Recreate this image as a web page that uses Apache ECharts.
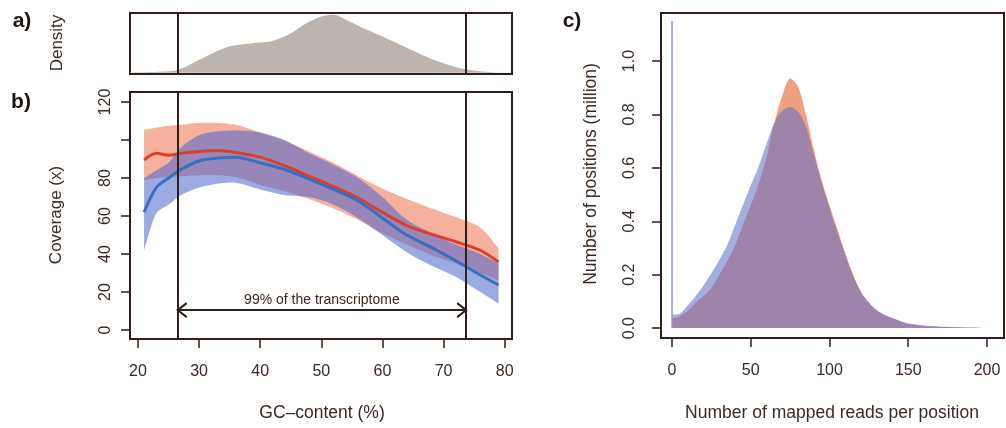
<!DOCTYPE html>
<html>
<head>
<meta charset="utf-8">
<script src="https://cdn.jsdelivr.net/npm/echarts@6/dist/echarts.min.js"></script>
<style>
  html, body { margin: 0; padding: 0; background: #fff; }
  #chart { width: 1006px; height: 428px; }
</style>
</head>
<body>
<div id="chart"></div>
<script>
// panel a: GC-content density
var densityGc = [18.7, 22, 26.5, 30, 34.5, 38.5, 42, 45, 47.5, 50, 52, 54.5, 57.5, 63, 68.5, 73.5, 78, 81.2]
var densityValues = [0.01, 0.015, 0.05, 0.22, 0.44, 0.51, 0.55, 0.68, 0.85, 0.97, 1.0, 0.89, 0.74, 0.48, 0.22, 0.06, 0.01, 0.0]

// panel b: coverage vs GC-content
var gcValues = [21, 23, 25, 27, 30, 33, 36, 40, 44, 48, 52, 56, 60, 64, 68, 72, 76, 79]
var redMean = [89.5, 93, 92, 93, 94, 94.5, 93.5, 91, 86.5, 81, 75.5, 69.5, 62, 55, 50.5, 46.5, 42, 35.8]
var redUpper = [105.5, 106.5, 107.5, 108, 109, 109, 108, 104, 99.5, 94, 88, 81, 74.5, 69, 64, 59.5, 54, 43]
var redLower = [79, 80, 80.5, 81, 81.5, 81.5, 80.5, 76.5, 73, 69, 64, 58, 51, 45, 39.5, 35, 30, 26]
var blueMean = [62, 75, 80, 84.5, 89, 90.5, 91, 88, 84.5, 79.5, 74, 68, 59, 50, 43.5, 36.5, 29, 23.7]
var blueUpper = [80, 84, 88, 96, 102.5, 104.5, 105, 104, 100, 93, 87, 80, 70, 58, 51, 45, 40, 35]
var blueLower = [42, 61.5, 66, 71, 75, 77, 77.5, 74, 71, 70, 66, 59, 50, 41, 34, 28, 20, 14]
var transcriptomeRange = [26.5, 73.7]
var arrowLevel = 10.5
var arrowText = '99% of the transcriptome'
var gcTicks = [20, 30, 40, 50, 60, 70, 80]
var coverageTicks = [0, 20, 40, 60, 80, 100, 120]
var coverageLabels = [0, 20, 40, 60, 80, 120]

// panel c: mapped reads per position
var readsPerPosition = [0, 5, 10, 15, 20, 25, 30, 35, 40, 45, 50, 55, 60, 65, 70, 75, 80, 85, 90, 95, 100, 105, 110, 115, 120, 125, 130, 135, 140, 145, 150, 160, 170, 180, 190, 200]
var orangePositions = [0.035, 0.045, 0.065, 0.095, 0.12, 0.15, 0.2, 0.25, 0.31, 0.385, 0.46, 0.54, 0.64, 0.77, 0.87, 0.935, 0.905, 0.8, 0.67, 0.555, 0.46, 0.37, 0.28, 0.2, 0.135, 0.095, 0.065, 0.048, 0.037, 0.025, 0.015, 0.008, 0.005, 0.003, 0.002, 0.001]
var bluePositions = [0.05, 0.055, 0.085, 0.12, 0.16, 0.205, 0.255, 0.31, 0.385, 0.46, 0.535, 0.605, 0.69, 0.77, 0.815, 0.828, 0.81, 0.755, 0.65, 0.545, 0.45, 0.36, 0.275, 0.195, 0.135, 0.095, 0.068, 0.05, 0.038, 0.027, 0.018, 0.01, 0.006, 0.004, 0.002, 0.001]
var spikeReads = [0, 0]
var spikeValues = [0, 1.15]
var readTicks = [0, 50, 100, 150, 200]
var positionTicks = [0, 0.2, 0.4, 0.6, 0.8, 1.0]

var FONT = '"Liberation Sans", Arial, sans-serif'
var INK = '#3b2a21'
var FRAME = '#2e2019'

function pairs(xs, ys) {
  return xs.map(function(x, i) { return [x, ys[i]] })
}

function valueAxis(grid, min, max, extra) {
  var axis = {
    type: 'value',
    gridIndex: grid,
    min: min,
    max: max,
    splitLine: { show: false },
    axisLine: { show: false, onZero: false },
    axisTick: { show: false },
    axisLabel: { show: false }
  }
  return Object.assign(axis, extra || {})
}

function ticked(values, labels, margin, rotate, fmt) {
  return {
    axisTick: {
      show: true,
      length: 9,
      customValues: values,
      lineStyle: { color: FRAME, width: 1.5 }
    },
    axisLabel: {
      show: true,
      customValues: labels,
      margin: margin,
      rotate: rotate,
      color: INK,
      fontSize: 16,
      fontFamily: FONT,
      formatter: fmt
    }
  }
}

// shaded band between lower and upper, drawn once as a polygon through the axis scales
function band(xs, lower, upper, color, opacity) {
  return {
    type: 'custom',
    xAxisIndex: 1, yAxisIndex: 1,
    silent: true,
    encode: { x: 0, y: [1, 2] },
    data: xs.map(function(x, i) { return [x, lower[i], upper[i]] }),
    renderItem: function(params, api) {
      if (params.dataIndex !== 0) return null
      var pts = []
      var n = xs.length
      var first = api.coord([xs[0], upper[0]])
      pts.push(first, first.slice())
      for (var i = 1; i < n - 1; i++) pts.push(api.coord([xs[i], upper[i]]))
      var tr = api.coord([xs[n - 1], upper[n - 1]])
      var br = api.coord([xs[n - 1], lower[n - 1]])
      pts.push(tr, tr.slice(), br, br.slice())
      for (var j = n - 2; j > 0; j--) pts.push(api.coord([xs[j], lower[j]]))
      var bl = api.coord([xs[0], lower[0]])
      pts.push(bl, bl.slice())
      return {
        type: 'polygon',
        shape: { points: pts, smooth: 0.3 },
        style: { fill: color, opacity: opacity }
      }
    }
  }
}

var chart = echarts.init(document.getElementById('chart'), null, { renderer: 'canvas' })

var gridStyle = { show: true, borderColor: FRAME, borderWidth: 2, backgroundColor: 'transparent' }

var vlines = {
  silent: true,
  symbol: ['none', 'none'],
  label: { show: false },
  lineStyle: { color: FRAME, width: 2, type: 'solid' },
  data: transcriptomeRange.map(function(v) { return { xAxis: v } })
}

var lineBase = { type: 'line', showSymbol: false, symbol: 'none', smooth: 0.3, silent: true }

chart.setOption({
  animation: false,
  textStyle: { fontFamily: FONT },
  grid: [
    Object.assign({ left: 130, top: 13, width: 382, height: 61 }, gridStyle),
    Object.assign({ left: 130, top: 92, width: 382, height: 247 }, gridStyle),
    Object.assign({ left: 661, top: 13, width: 343, height: 325 }, gridStyle)
  ],
  xAxis: [
    valueAxis(0, 18.7, 81.2),
    valueAxis(1, 18.7, 81.2, ticked(gcTicks, gcTicks, 25, 0)),
    valueAxis(2, -7, 210.8, ticked(readTicks, readTicks, 25, 0))
  ],
  yAxis: [
    valueAxis(0, -0.02, 1.03),
    valueAxis(1, -4.7, 125.3, ticked(coverageTicks, coverageLabels, 16, 90)),
    valueAxis(2, -0.037, 1.18, ticked(positionTicks, positionTicks, 23, 90, function(v) { return v.toFixed(1) }))
  ],
  series: [
    // a) density
    Object.assign({}, lineBase, {
      xAxisIndex: 0, yAxisIndex: 0,
      data: pairs(densityGc, densityValues),
      lineStyle: { width: 0 },
      areaStyle: { color: '#bcb4ae', opacity: 1 },
      markLine: vlines
    }),
    // b) red band + line, then blue band + line on top
    band(gcValues, redLower, redUpper, 'rgb(238,125,90)', 0.6),
    Object.assign({}, lineBase, {
      xAxisIndex: 1, yAxisIndex: 1,
      data: pairs(gcValues, redMean),
      lineStyle: { color: '#d8402c', width: 3 }
    }),
    band(gcValues, blueLower, blueUpper, 'rgb(75,100,205)', 0.55),
    Object.assign({}, lineBase, {
      xAxisIndex: 1, yAxisIndex: 1,
      data: pairs(gcValues, blueMean),
      lineStyle: { color: '#3770c0', width: 3 },
      markLine: vlines
    }),
    // b) 99% arrow
    {
      type: 'custom',
      xAxisIndex: 1, yAxisIndex: 1,
      silent: true,
      encode: { x: [0, 1], y: 2 },
      data: [[transcriptomeRange[0], transcriptomeRange[1], arrowLevel]],
      renderItem: function(params, api) {
        var a = api.coord([api.value(0), api.value(2)])
        var b = api.coord([api.value(1), api.value(2)])
        var st = { stroke: FRAME, lineWidth: 2, fill: null }
        return {
          type: 'group',
          children: [
            { type: 'line', shape: { x1: a[0], y1: a[1], x2: b[0], y2: b[1] }, style: st },
            { type: 'polyline', shape: { points: [[a[0] + 9, a[1] - 7], a, [a[0] + 9, a[1] + 7]] }, style: st },
            { type: 'polyline', shape: { points: [[b[0] - 9, b[1] - 7], b, [b[0] - 9, b[1] + 7]] }, style: st },
            {
              type: 'text',
              x: (a[0] + b[0]) / 2,
              y: a[1] - 10,
              style: {
                text: arrowText,
                align: 'center', verticalAlign: 'middle',
                textAlign: 'center', textVerticalAlign: 'middle',
                font: '14px ' + FONT,
                fill: INK
              }
            }
          ]
        }
      }
    },
    // c) histograms
    Object.assign({}, lineBase, {
      xAxisIndex: 2, yAxisIndex: 2,
      data: pairs(readsPerPosition, orangePositions),
      lineStyle: { width: 0 },
      areaStyle: { color: 'rgb(240,160,128)', opacity: 1 }
    }),
    Object.assign({}, lineBase, {
      xAxisIndex: 2, yAxisIndex: 2,
      data: pairs(readsPerPosition, bluePositions),
      lineStyle: { width: 0 },
      areaStyle: { color: 'rgb(90,110,200)', opacity: 0.55 }
    }),
    Object.assign({}, lineBase, {
      xAxisIndex: 2, yAxisIndex: 2, smooth: false,
      data: pairs(spikeReads, spikeValues),
      lineStyle: { color: '#9a96cc', width: 1.5 }
    })
  ],
  graphic: [
    { type: 'text', x: 22, y: 21, style: { text: 'a)', font: 'bold 21px ' + FONT, fill: '#1e1510', textAlign: 'center', textVerticalAlign: 'middle' } },
    { type: 'text', x: 21, y: 102, style: { text: 'b)', font: 'bold 21px ' + FONT, fill: '#1e1510', textAlign: 'center', textVerticalAlign: 'middle' } },
    { type: 'text', x: 572, y: 21, style: { text: 'c)', font: 'bold 21px ' + FONT, fill: '#1e1510', textAlign: 'center', textVerticalAlign: 'middle' } },
    { type: 'text', x: 57, y: 43, rotation: Math.PI / 2, style: { text: 'Density', font: '17px ' + FONT, fill: INK, textAlign: 'center', textVerticalAlign: 'middle' } },
    { type: 'text', x: 56, y: 215, rotation: Math.PI / 2, style: { text: 'Coverage (x)', font: '17px ' + FONT, fill: INK, textAlign: 'center', textVerticalAlign: 'middle' } },
    { type: 'text', x: 322, y: 413, style: { text: 'GC\u2013content (%)', font: '17.5px ' + FONT, fill: INK, textAlign: 'center', textVerticalAlign: 'middle' } },
    { type: 'text', x: 591, y: 174, rotation: Math.PI / 2, style: { text: 'Number of positions (million)', font: '17.5px ' + FONT, fill: INK, textAlign: 'center', textVerticalAlign: 'middle' } },
    { type: 'text', x: 832, y: 413, style: { text: 'Number of mapped reads per position', font: '17.5px ' + FONT, fill: INK, textAlign: 'center', textVerticalAlign: 'middle' } }
  ]
})
</script>
</body>
</html>
